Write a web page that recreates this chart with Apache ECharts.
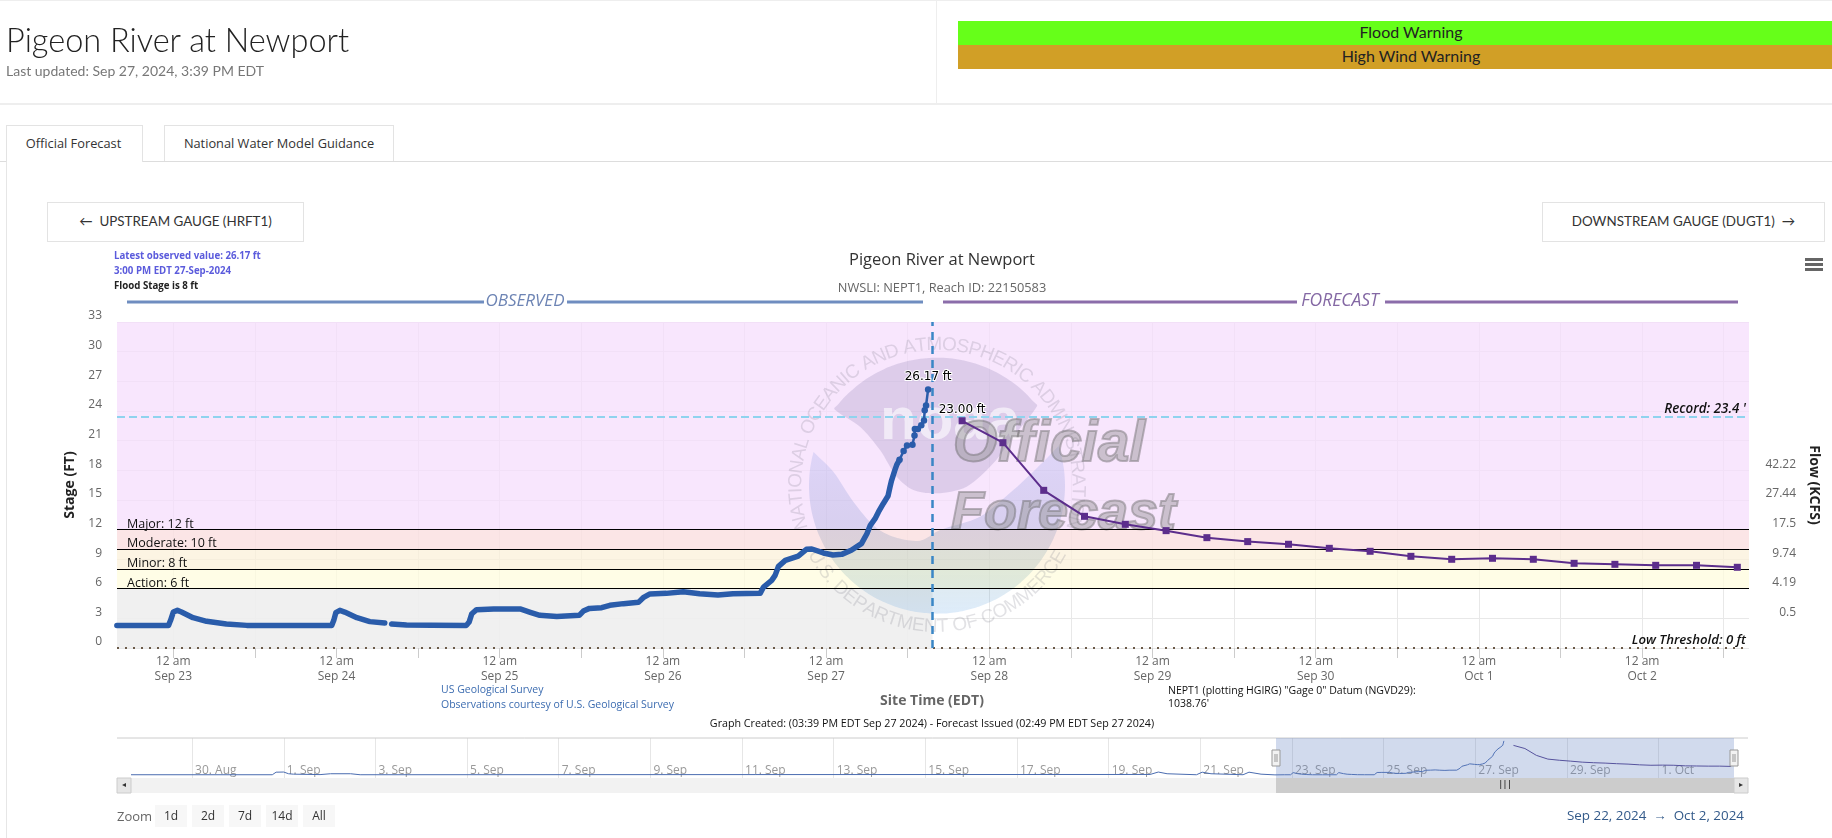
<!DOCTYPE html>
<html><head><meta charset="utf-8"><title>Pigeon River at Newport</title>
<script src="https://cdn.jsdelivr.net/npm/echarts@6/dist/echarts.min.js"></script>
<style>
html,body{margin:0;padding:0;background:#fff;width:1832px;height:838px;overflow:hidden;font-family:Lato,"Open Sans",sans-serif;color:#333}
#chart{position:absolute;left:0;top:0;width:1832px;height:838px}
.a{position:absolute;box-sizing:border-box;white-space:nowrap}
.btn{border:1px solid #e3e3e3;display:flex;align-items:center;justify-content:center;font-size:13.4px;color:#333;background:#fff;padding-bottom:2px}
.bar{display:flex;align-items:center;justify-content:center;font-size:16px;color:#222;padding-bottom:4px}
.zb{background:#f7f7f7;text-align:center;font:12px/22px "Open Sans",sans-serif;color:#333;height:22px;top:805px}
</style></head><body>
<div id="chart"></div>
<div class="a" style="left:0;top:0;width:1832px;height:1px;background:#eee"></div>
<div class="a" style="left:0;top:103px;width:1832px;height:2px;background:#eee"></div>
<div class="a" style="left:936px;top:0;width:1px;height:104px;background:#eee"></div>
<div class="a" style="left:6px;top:20px;font-size:32.5px;line-height:40px;font-weight:300;color:#222">Pigeon River at Newport</div>
<div class="a" style="left:6px;top:62px;font-size:14px;line-height:18px;color:#777">Last updated: Sep 27, 2024, 3:39 PM EDT</div>
<div class="a bar" style="left:958px;top:21px;width:906px;height:24px;background:#66ff19">Flood Warning</div>
<div class="a bar" style="left:958px;top:45px;width:906px;height:24px;background:#d19f26">High Wind Warning</div>
<div class="a" style="left:0;top:161px;width:1832px;height:1px;background:#ddd"></div>
<div class="a" style="left:6px;top:161px;width:1px;height:677px;background:#e6e6e6"></div>
<div class="a btn" style="left:6px;top:125px;width:137px;height:37px;border-bottom:0;font-size:12.8px;font-family:'Open Sans';padding:0 2px 2px 0">Official Forecast</div>
<div class="a btn" style="left:164px;top:125px;width:230px;height:36px;border-bottom:0;font-size:12.8px;font-family:'Open Sans'">National Water Model Guidance</div>
<div class="a btn" style="left:47px;top:202px;width:257px;height:40px">←&nbsp; UPSTREAM GAUGE (HRFT1)</div>
<div class="a btn" style="left:1542px;top:202px;width:283px;height:40px">DOWNSTREAM GAUGE (DUGT1) &nbsp;→</div>
<div class="a" style="left:1805px;top:258px;width:18px;height:3px;background:#666"></div>
<div class="a" style="left:1805px;top:263px;width:18px;height:3px;background:#666"></div>
<div class="a" style="left:1805px;top:268px;width:18px;height:3px;background:#666"></div>
<div class="a" style="left:117px;top:807px;font:13px/18px 'Open Sans',sans-serif;color:#666">Zoom</div>
<div class="a zb" style="left:155px;width:32px">1d</div>
<div class="a zb" style="left:192px;width:32px">2d</div>
<div class="a zb" style="left:229px;width:32px">7d</div>
<div class="a zb" style="left:266px;width:32px">14d</div>
<div class="a zb" style="left:303px;width:32px">All</div>
<div class="a" style="right:88px;top:806px;font:13.4px/18px 'Open Sans',sans-serif;color:#335a8a">Sep 22, 2024 &nbsp;→&nbsp; Oct 2, 2024</div>
<script>
// hours after 12 am Sep 23 2024 (site time)
const obsHours=[-8.3,-4,-0.7,-0.4,0,0.6,1.2,2.9,4.9,7.8,10.8,16,23.3,23.6,23.9,24.5,25.2,27,28.9,31.1,31.6,32.1,34.3,38,43.1,43.5,43.9,44.6,47.1,51,52.5,53.9,56.4,59.7,60.3,61.2,63,64.2,66.2,68.4,69.1,70.1,72.5,75,77.4,80.1,82.3,86.3,86.8,88,88.5,89,90,91.9,93.1,93.9,95.6,97,98.3,99.7,101.2,102,102.5,103.2,103.7,104.4,105.1,105.4,105.6,106.1,106.4,106.8,107.4,107.9,108.7,109,109.05,109.5,110,110.4,110.5,110.7,111];
const obsStage=[2.29,2.29,2.29,2.8,3.64,3.81,3.64,3.07,2.7,2.43,2.29,2.28,2.29,2.8,3.58,3.81,3.64,3.07,2.67,2.53,null,2.43,2.33,2.3,2.29,2.63,3.47,3.88,3.95,3.95,3.61,3.31,3.2,3.31,3.74,4.01,4.08,4.32,4.49,4.62,5.09,5.47,5.53,5.7,5.5,5.36,5.5,5.53,6.17,6.85,7.35,8.27,8.87,9.31,9.99,10.02,9.62,9.41,9.48,9.89,10.56,11.57,12.42,13.09,13.77,14.61,15.38,16.3,16.9,17.98,18.56,19.06,19.94,20.51,20.58,21.52,22.17,22.17,22.54,23.04,24.06,24.56,26.17];
const thinFromHour=106.8;
const forecastHours=[116,122,128,134,140,146,152,158,164,170,176,182,188,194,200,206,212,218,224,230];
const forecastStage=[23,20.78,15.96,13.33,12.52,11.88,11.17,10.77,10.5,10.09,9.79,9.28,8.98,9.08,8.98,8.57,8.47,8.37,8.37,8.17];
const navHistoryHours=[-608,-534,-532,-528,-525.5,-523,-509,-503.5,-493,-488,-74.3,-70,-65.4,-50,-47,-42.4,-25.6,-22.5,-16.2,-8.9];
const navHistoryStage=[2.3,2.3,4.1,4.2,3,2.7,2.4,3,3,2.3,2.5,4.2,3,2.3,4.1,3,2.3,4.1,2.7,2.2];
const nowHour=111.65;
const flowTickStages=[3,6,9,12,15,18];
const flowTickLabels=['0.5','4.19','9.74','17.5','27.44','42.22'];
const thresholdNames=['Major: 12 ft','Moderate: 10 ft','Minor: 8 ft','Action: 6 ft'];
const thresholdLines=[12,10,8,6];
const bandTops=[33,12,10,8,6];
const bandBottoms=[12,10,8,6,0];
const bandColors=['rgba(246,222,252,.75)','rgba(250,222,224,.8)','rgba(251,240,218,.75)','rgba(255,252,222,.75)','rgba(238,238,238,.9)'];
const recordStage=23.4, lowStage=0;

const HOUR=3600000, base=Date.UTC(2024,8,23);
const xMin=-8.28, xMax=231.72;
const bandEnds=[xMax,xMax,xMax,xMax,nowHour];
const tickHours=[], dayHours=[];
for(let h=-12;h<=228;h+=12){if(h>xMin)tickHours.push(h); if(h%24===0)dayHours.push(h);}
const navTicks=[]; for(let d=-24;d<=9;d+=2)navTicks.push(d*24);
const MON=['Jan','Feb','Mar','Apr','May','Jun','Jul','Aug','Sep','Oct','Nov','Dec'];
const zipData=(xs,ys)=>xs.map((x,i)=>[x,ys[i]]);
const obsPairs=zipData(obsHours,obsStage);
const thick=obsPairs.filter(p=>p[0]<=thinFromHour);
const peakLab={show:true,position:'top',color:'#000',fontSize:12,fontFamily:'DejaVu Sans',textBorderColor:'#fff',textBorderWidth:2};
const thin=obsPairs.filter(p=>p[0]>=thinFromHour).map((p,i,a)=>i===a.length-1?{value:p,label:{...peakLab,distance:3,formatter:p[1].toFixed(2)+' ft'}}:p);
const fc=zipData(forecastHours,forecastStage).map((p,i)=>i===0?{value:p,label:{...peakLab,distance:1,formatter:p[1].toFixed(2)+' ft'}}:p);

// watermark
const g=[];
const sx=X=>780+X/3, sy=Y=>330+Y/3, CX=sx(471), CY=sy(467), R=128;
function arc(a0,a1,n){const o=[];for(let i=0;i<=n;i++){const a=a0+(a1-a0)*i/n;o.push([CX+R*Math.cos(a),CY+R*Math.sin(a)]);}return o;}
const pts=a=>a.map(p=>[sx(p[0]),sy(p[1])]);
const ang=(X,Y)=>Math.atan2(Y-467,X-471);
const upper=[...arc(ang(160,235),ang(775,225)+(ang(775,225)<ang(160,235)?2*Math.PI:0),40),...pts([[700,320],[640,400],[560,470],[470,490],[400,480],[350,440],[300,360],[240,290]])];
let a0=ang(838,345),a1=ang(100,365);if(a1<a0)a1+=2*Math.PI;
const lower=[...pts([[100,365],[160,425],[220,515],[285,590],[345,622],[420,632],[480,600],[600,560],[700,480],[790,395],[838,345]]),...arc(a0,a1,60)];
g.push({type:'polygon',z2:1,silent:true,shape:{points:upper,smooth:0.3},style:{fill:'rgba(60,50,120,.14)'}});
g.push({type:'polygon',z2:1,silent:true,shape:{points:lower,smooth:0.3},style:{fill:new echarts.graphic.LinearGradient(0,0,0,1,[{offset:0,color:'rgba(70,110,220,.14)'},{offset:.45,color:'rgba(50,90,170,.16)'},{offset:.72,color:'rgba(40,110,130,.14)'},{offset:1,color:'rgba(70,150,230,.18)'}])}});
const ringFont='19px "Liberation Sans"';
const ctx=document.createElement('canvas').getContext('2d');ctx.font=ringFont;
const ring=(s,th0,th1,bottom)=>{const ws=[...s].map(c=>ctx.measureText(c).width);const tot=ws.reduce((a,b)=>a+b,0);let acc=0;
  [...s].forEach((c,i)=>{const f=(acc+ws[i]/2)/tot;acc+=ws[i];const th=(th0+(th1-th0)*f)*Math.PI/180;
  const x=CX+141*Math.sin(th), y=bottom?CY+141*Math.cos(th):CY-141*Math.cos(th);
  g.push({type:'text',z2:1,silent:true,x,y,rotation:bottom?th:-th,style:{text:c,fill:'rgba(110,110,125,.2)',font:ringFont,textAlign:'center',textVerticalAlign:'middle',align:'center',verticalAlign:'middle'}});});};
ring('NATIONAL OCEANIC AND ATMOSPHERIC ADMINISTRATION',-108,108,false);
ring('U.S. DEPARTMENT OF COMMERCE',-62,62,true);
const wm=(x,y,t,s)=>g.push({type:'text',z2:2,silent:true,x,y,style:{text:t,fill:'rgba(140,140,140,.42)',stroke:'rgba(85,85,85,.4)',lineWidth:2,font:'italic bold '+s+'px "Liberation Sans"',textAlign:'left',textVerticalAlign:'bottom',align:'left',verticalAlign:'bottom'}});
g.push({type:'text',z2:2,silent:true,x:880,y:452,style:{text:'noaa',fill:'rgba(255,255,255,.6)',font:'bold 60px "Liberation Sans"',textAlign:'left',textVerticalAlign:'bottom',align:'left',verticalAlign:'bottom'}});
wm(953,474,'Official',57); wm(951,541,'Forecast',54);

const txt=(x,y,t,font,fill,al)=>g.push({type:'text',z2:5,silent:true,x,y,style:{text:t,font,fill,textAlign:al||'left',align:al||'left',textVerticalAlign:'middle',verticalAlign:'middle'}});
const F='"Open Sans"';
txt(114,256,'Latest observed value: 26.17 ft','bold 9.7px '+F,'#5b5bdc');
txt(114,271,'3:00 PM EDT 27-Sep-2024','bold 9.7px '+F,'#5b5bdc');
txt(114,286,'Flood Stage is 8 ft','bold 9.7px '+F,'#222');
const rule=(x0,x1,c)=>g.push({type:'line',z2:1,silent:true,shape:{x1:x0,y1:302,x2:x1,y2:302},style:{stroke:c,lineWidth:3}});
rule(127,484,'#6f8dc0');rule(567,923,'#6f8dc0');rule(943,1297,'#8b6daa');rule(1385,1738,'#8b6daa');
txt(525,301,'OBSERVED','italic 17px '+F,'#6d84b4','center');
txt(1340,301,'FORECAST','italic 17.5px '+F,'#8468a4','center');
txt(932,701,'Site Time (EDT)','bold 14px '+F,'#666','center');
txt(441,690,'US Geological Survey','10.5px '+F,'#3c6cb0');
txt(441,705,'Observations courtesy of U.S. Geological Survey','10.5px '+F,'#3c6cb0');
txt(1168,691,'NEPT1 (plotting HGIRG) "Gage 0" Datum (NGVD29):','10.5px '+F,'#111');
txt(1168,704,"1038.76'",'10.5px '+F,'#111');
txt(932,724,'Graph Created: (03:39 PM EDT Sep 27 2024) - Forecast Issued (02:49 PM EDT Sep 27 2024)','10.7px '+F,'#111','center');
// navigator furniture
g.push({type:'line',z2:0,silent:true,shape:{x1:117,y1:738,x2:1748,y2:738},style:{stroke:'#ccc',lineWidth:1}});
g.push({type:'rect',z2:0,silent:true,shape:{x:117,y:778,width:1631,height:15},style:{fill:'#f2f2f2'}});
g.push({type:'rect',z2:1,silent:true,shape:{x:117,y:778,width:14,height:15},style:{fill:'#e6e6e6',stroke:'#ccc'}});
g.push({type:'rect',z2:1,silent:true,shape:{x:1734,y:778,width:14,height:15},style:{fill:'#e6e6e6',stroke:'#ccc'}});
g.push({type:'rect',z2:1,silent:true,shape:{x:1276,y:778,width:458,height:15},style:{fill:'#cccccc'}});
g.push({type:'rect',z2:1,silent:true,shape:{x:1276,y:738,width:458,height:40},style:{fill:'rgba(102,133,194,.3)'}});
txt(1505,785,'|||','bold 8px '+F,'#333','center');
txt(124,785,'◂','8px '+F,'#333','center');
txt(1741,785,'▸','8px '+F,'#333','center');
[1276,1734].forEach(x=>{g.push({type:'rect',z2:3,silent:true,shape:{x:x-4,y:750,width:8,height:16},style:{fill:'#f2f2f2',stroke:'#999'}});
  g.push({type:'line',z2:4,silent:true,shape:{x1:x-1,y1:754,x2:x-1,y2:762},style:{stroke:'#999'}});
  g.push({type:'line',z2:4,silent:true,shape:{x1:x+1,y1:754,x2:x+1,y2:762},style:{stroke:'#999'}});});
g.forEach(e=>{e.z=3;});

const bandData=bandTops.map((t,i)=>[xMin,bandEnds[i],bandBottoms[i],t]);
const ml=(v,name)=>({yAxis:v,label:{show:true,formatter:name,position:'insideStartTop',color:'#111',fontSize:12.5,fontFamily:F,distance:[10,-1]},lineStyle:{color:'#000',width:1,type:'solid'}});
const italicLab=(t,s)=>({show:true,formatter:t,position:'insideEndTop',color:'#111',fontSize:s,fontStyle:'italic',fontWeight:600,fontFamily:F,distance:[3,1]});
const dayLabel=v=>{const d=new Date(base+v*HOUR);return MON[d.getUTCMonth()]+' '+d.getUTCDate();};
const navLabel=v=>{const d=new Date(base+v*HOUR);return d.getUTCDate()+'. '+MON[d.getUTCMonth()];};

const option={
 animation:false,textStyle:{fontFamily:F},
 title:{text:'Pigeon River at Newport',subtext:'NWSLI: NEPT1, Reach ID: 22150583',left:937,top:247,textAlign:'center',itemGap:13,
   textStyle:{fontSize:16.5,fontWeight:'normal',color:'#333',fontFamily:F},subtextStyle:{fontSize:12.8,color:'#666',fontFamily:F}},
 graphic:{z:3,elements:g},
 grid:[{left:117,top:322,width:1632,height:326},{left:131,top:738,width:1603,height:40}],
 xAxis:[
  {type:'value',gridIndex:0,min:xMin,max:xMax,axisLine:{show:false},
   axisTick:{show:true,length:10,lineStyle:{color:'#ccc'},customValues:tickHours},
   splitLine:{show:true,lineStyle:{color:'#e8e8e8'}},
   axisLabel:{customValues:dayHours,margin:6,color:'#666',fontSize:12,lineHeight:15,hideOverlap:false,
     formatter:v=>'12 am\n'+dayLabel(v)}},
  {type:'value',gridIndex:1,min:-608,max:231.5,axisLine:{show:false},
   axisTick:{show:false,customValues:navTicks},splitLine:{show:true,lineStyle:{color:'#e6e6e6'}},
   axisLabel:{customValues:navTicks,inside:true,margin:1,align:'left',verticalAlign:'bottom',color:'#999',fontSize:12,padding:[0,0,0,3],hideOverlap:false,formatter:navLabel}}],
 yAxis:[
  {type:'value',gridIndex:0,min:0,max:33,interval:3,name:'Stage (FT)',nameLocation:'middle',nameGap:40,nameRotate:90,
   nameTextStyle:{fontWeight:'bold',fontSize:14,color:'#222',fontFamily:F},
   axisLine:{show:false},axisTick:{show:false},splitLine:{lineStyle:{color:'#e8e8e8'}},
   axisLabel:{margin:15,color:'#666',fontSize:12,verticalAlign:'bottom'}},
  {type:'value',gridIndex:0,position:'right',min:0,max:33,interval:3,name:'Flow (KCFS)',nameLocation:'middle',nameGap:57,nameRotate:-90,
   nameTextStyle:{fontWeight:'bold',fontSize:14,color:'#222',fontFamily:F},
   axisLine:{show:false},axisTick:{show:false},splitLine:{show:false},
   axisLabel:{margin:47,align:'right',color:'#666',fontSize:12,verticalAlign:'bottom',formatter:v=>{const i=flowTickStages.indexOf(v);return i<0?'':flowTickLabels[i];}}},
  {type:'value',gridIndex:1,min:0,max:28.2,show:false,splitLine:{show:false}}],
 series:[
  {name:'Bands',type:'custom',xAxisIndex:0,yAxisIndex:0,z:1,silent:true,data:bandData,clip:true,encode:{x:[0,1],y:[2,3]},
   renderItem:(params,api)=>{const a=api.coord([api.value(0),api.value(3)]),b=api.coord([api.value(1),api.value(2)]);
     return {type:'rect',shape:{x:a[0],y:a[1],width:b[0]-a[0],height:b[1]-a[1]},style:{fill:bandColors[params.dataIndex]}};}},
  {name:'Thresholds',type:'line',xAxisIndex:0,yAxisIndex:0,data:[],z:5,silent:true,
   markLine:{silent:true,symbol:'none',z:5,data:[
     ...thresholdLines.map((v,i)=>ml(v,thresholdNames[i])),
     {yAxis:recordStage,label:italicLab("Record: 23.4 '",13.4),lineStyle:{color:'#8fd3ee',width:2,type:[8,4]}},
     {yAxis:lowStage,label:italicLab('Low Threshold: 0 ft',13.2),lineStyle:{color:'#6b5a48',width:2,type:[2,6]}},
     {xAxis:nowHour,label:{show:false},lineStyle:{color:'#3a86c6',width:2.5,type:[8,6]}}
   ]}},
  {name:'Observed',type:'line',xAxisIndex:0,yAxisIndex:0,data:thick,z:6,showSymbol:false,symbol:'circle',connectNulls:false,lineStyle:{color:'#2a5caa',width:5.5,cap:'round',join:'round'},itemStyle:{color:'#2a5caa'}},
  {name:'Observed (latest)',type:'line',xAxisIndex:0,yAxisIndex:0,data:thin,z:6,showSymbol:true,showAllSymbol:true,symbol:'circle',symbolSize:6.5,lineStyle:{color:'#2a5caa',width:2.5},itemStyle:{color:'#2a5caa'}},
  {name:'Forecast',type:'line',xAxisIndex:0,yAxisIndex:0,data:fc,z:6,showSymbol:true,showAllSymbol:true,symbol:'rect',symbolSize:7,lineStyle:{color:'#5c2d8c',width:2},itemStyle:{color:'#5c2d8c'}},
  {name:'Nav history',type:'line',xAxisIndex:1,yAxisIndex:2,data:zipData(navHistoryHours,navHistoryStage).concat(obsPairs.filter(p=>p[1]!==null)),z:2,showSymbol:false,silent:true,lineStyle:{color:'#4a6cb0',width:1}},
  {name:'Nav forecast',type:'line',xAxisIndex:1,yAxisIndex:2,data:zipData(forecastHours,forecastStage),z:2,showSymbol:false,silent:true,lineStyle:{color:'#4f3d8c',width:1}}
 ]};
echarts.init(document.getElementById('chart')).setOption(option);
</script></body></html>
